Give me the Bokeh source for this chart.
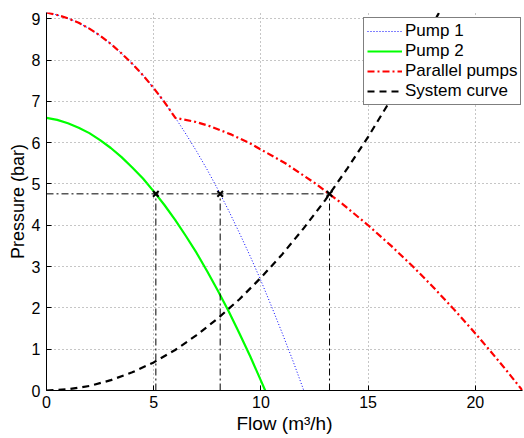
from bokeh.plotting import figure
from bokeh.models import Range1d, FixedTicker, Title
from bokeh.embed import file_html
from bokeh.resources import INLINE

# ---- data ----
flow_pump1 = [0, 0.5, 1, 1.5, 2, 2.5, 3, 3.5, 4, 4.5, 5, 5.5, 6, 6.5, 7, 7.5,
              8, 8.5, 9, 9.5, 10, 10.5, 11, 11.5, 12]
pressure_pump1 = [9.15, 9.09, 9.01, 8.90, 8.76, 8.59, 8.39, 8.16, 7.91, 7.63,
                  7.32, 6.98, 6.61, 6.21, 5.79, 5.34, 4.86, 4.35, 3.81, 3.25,
                  2.66, 2.03, 1.38, 0.71, 0.0]

flow_pump2 = [0, 0.5, 1, 1.5, 2, 2.5, 3, 3.5, 4, 4.5, 5, 5.5, 6, 6.5, 7, 7.5,
              8, 8.5, 9, 9.5, 10, 10.2]
pressure_pump2 = [6.60, 6.55, 6.47, 6.36, 6.23, 6.06, 5.87, 5.65, 5.40, 5.13,
                  4.82, 4.49, 4.13, 3.74, 3.33, 2.88, 2.41, 1.91, 1.38, 0.83,
                  0.24, 0.0]

flow_parallel = [0, 0.5, 1, 1.5, 2, 2.5, 3, 3.5, 4, 4.5, 5, 5.5, 6.01, 6.97,
                 7.61, 8.60, 9.43, 11.14, 12.57, 13.84, 15.00, 16.08, 17.09,
                 18.04, 18.94, 19.80, 20.63, 21.43, 22.2]
pressure_parallel = [9.15, 9.09, 9.01, 8.90, 8.76, 8.59, 8.39, 8.16, 7.91, 7.63,
                     7.32, 6.98, 6.60, 6.50, 6.40, 6.20, 6.00, 5.50, 5.00, 4.50,
                     4.00, 3.50, 3.00, 2.50, 2.00, 1.50, 1.00, 0.50, 0.0]

flow_system = [0, 1, 2, 3, 4, 5, 6, 7, 8, 9, 10, 11, 12, 13, 14, 15, 16, 17,
               18, 18.3]
pressure_system = [0.0, 0.03, 0.11, 0.25, 0.44, 0.68, 0.98, 1.34, 1.75, 2.21,
                   2.73, 3.30, 3.93, 4.61, 5.35, 6.14, 6.99, 7.89, 8.85, 9.14]

op_flow = [5.1, 8.1, 13.2]
op_pressure = [4.76, 4.76, 4.76]

x_ticks = [0, 5, 10, 15, 20]
y_ticks = [0, 1, 2, 3, 4, 5, 6, 7, 8, 9]
x_max = 22.2
y_max = 9.15

FONT = "Liberation Sans"

p = figure(width=524, height=438, output_backend="svg", toolbar_location=None,
           x_range=Range1d(0, x_max), y_range=Range1d(0, y_max),
           min_border_left=46, min_border_right=2, min_border_top=12,
           min_border_bottom=48)
p.outline_line_color = None
p.background_fill_color = "white"
p.border_fill_color = "white"

# grid
p.grid.grid_line_color = "#8c8c8c"
p.grid.grid_line_dash = "1 3"
p.grid.grid_line_width = 1
p.xaxis.ticker = FixedTicker(ticks=x_ticks)
p.yaxis.ticker = FixedTicker(ticks=y_ticks)

for ax in (p.xaxis, p.yaxis):
    ax.axis_line_color = "black"
    ax.axis_line_width = 1
    ax.major_tick_in = 5
    ax.major_tick_out = 0
    ax.major_tick_line_color = "black"
    ax.minor_tick_line_color = None
    ax.major_label_text_font = FONT
    ax.major_label_text_font_size = "16px"
    ax.major_label_text_color = "black"
    ax.axis_label_text_font = FONT
    ax.axis_label_text_font_size = "19px"
    ax.axis_label_text_font_style = "normal"
    ax.axis_label_text_color = "black"

p.xaxis.axis_label = "Flow (m\u00b3/h)"
p.xaxis.major_label_standoff = 5
p.yaxis.major_label_standoff = 6
p.xaxis.axis_label_standoff = 2

# y axis title placed as in the reference (slightly above centre)
p.add_layout(Title(text="Pressure (bar)", align="center", offset=19,
                   text_font=FONT, text_font_size="18px",
                   text_font_style="normal", text_color="black",
                   standoff=2), "left")

# curves
p.line(flow_pump1, pressure_pump1, line_color="#0000ff", line_width=1,
       line_dash="1 2", legend_label="Pump 1")
p.line(flow_pump2, pressure_pump2, line_color="#00ff00", line_width=2.2,
       legend_label="Pump 2")
p.line(flow_parallel, pressure_parallel, line_color="#ff0000", line_width=2.2,
       line_dash="7 3 2 3", legend_label="Parallel pumps")
p.line(flow_system, pressure_system, line_color="black", line_width=2.2,
       line_dash="7 5", legend_label="System curve")

# operating points
p.segment(x0=[0], y0=[op_pressure[-1]], x1=[max(op_flow)], y1=[op_pressure[-1]],
          line_color="black", line_width=1, line_dash="7 3 2 3")
p.segment(x0=op_flow, y0=[0] * len(op_flow), x1=op_flow, y1=op_pressure,
          line_color="black", line_width=1, line_dash="7 3 2 3")
p.scatter(op_flow, op_pressure, marker="x", size=8, line_color="black",
          line_width=2)

# legend
lg = p.legend[0]
lg.location = (317, 285)
lg.margin = 0
lg.padding = 3
lg.spacing = 0
lg.glyph_width = 35
lg.glyph_height = 20
lg.label_height = 20
lg.label_standoff = 3
lg.label_text_font = FONT
lg.label_text_font_size = "17px"
lg.label_text_color = "black"
lg.border_line_color = "black"
lg.border_line_width = 1
lg.background_fill_color = "white"
lg.background_fill_alpha = 1.0

open("out.html", "w").write(file_html(p, INLINE))
